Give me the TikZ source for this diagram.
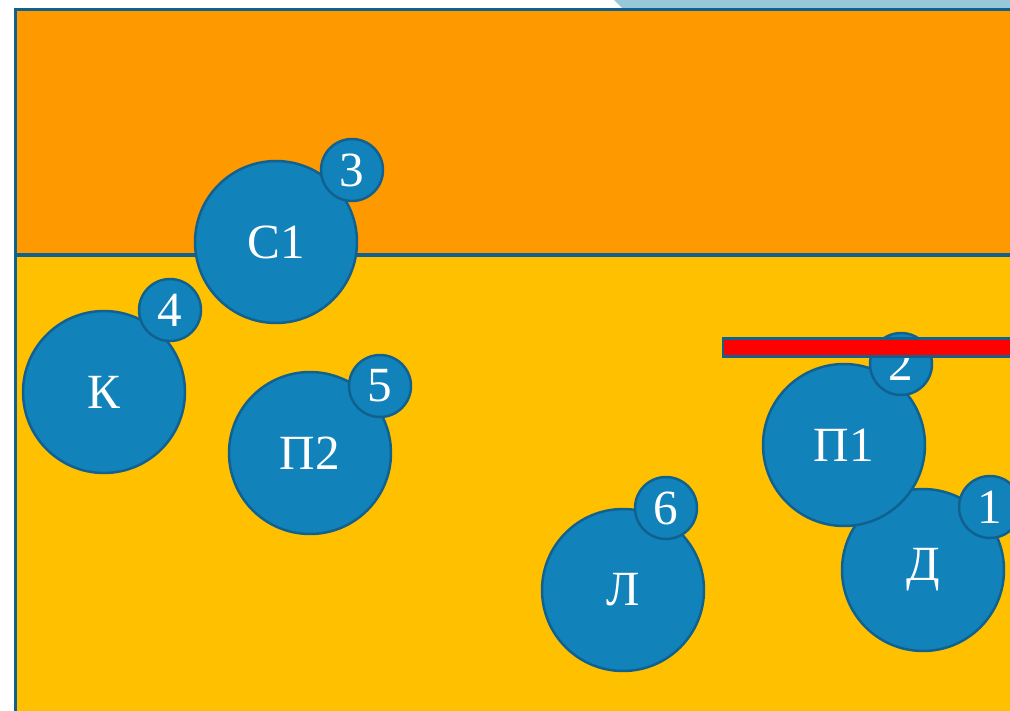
\documentclass[tikz,border=0pt]{standalone}
\usepackage{fontspec}
\setmainfont{Liberation Serif}
\usepackage{tikz}

\definecolor{bandtop}{RGB}{255,153,0}
\definecolor{bandlow}{RGB}{255,192,0}
\definecolor{ballfill}{RGB}{17,130,186}
\definecolor{balledge}{RGB}{16,97,143}
\definecolor{tabblue}{RGB}{150,200,218}

\tikzset{
  ball/.style={circle, fill=ballfill, draw=balledge, line width=1.4pt,
    minimum size=3.24cm, inner sep=0pt, text=white,
    font=\fontsize{28}{30}\selectfont},
  tag/.style={ball, minimum size=1.24cm}
}

\begin{document}
\begin{tikzpicture}[x=0.02cm, y=-0.02cm]
            \useasboundingbox (0, 0) rectangle (1010, 710);
            \clip (0, 0) rectangle (1010, 710);
            \fill[white] (0, 0) rectangle (1010, 710);
            \fill[tabblue] (614, 0) -- (622, 8) -- (1010, 8) -- (1010, 0) -- cycle;
            % two bands
            \draw[fill=bandtop, draw=balledge, line width=2pt] (15.5, 9.5) rectangle (1020, 255);
            \draw[fill=bandlow, draw=balledge, line width=2pt] (15.5, 255) rectangle (1020, 720);
            % left part
            \node[ball] (s1) at (276, 242) {С1};
            \node[tag] (n3) at (352, 170) {3};
            \node[ball] (k) at (104, 392) {К};
            \node[tag] (n4) at (170, 310) {4};
            \node[ball] (p2) at (310, 453) {П2};
            \node[tag] (n5) at (380, 386) {5};
            \node[ball] (l) at (623, 590) {Л};
            \node[tag] (n6) at (666, 508) {6};
            % right part
            \node[ball] (d) at (923, 570) {Д};
            \node[tag] (n1) at (990, 507) {1};
            \node[ball] (p1) at (844, 445) {П1};
            \node[tag] (n2) at (901, 364) {2};
            \draw[fill=red, draw=balledge, line width=1.4pt] (723, 338.5) rectangle (1020, 356.5);
\end{tikzpicture}
\end{document}
